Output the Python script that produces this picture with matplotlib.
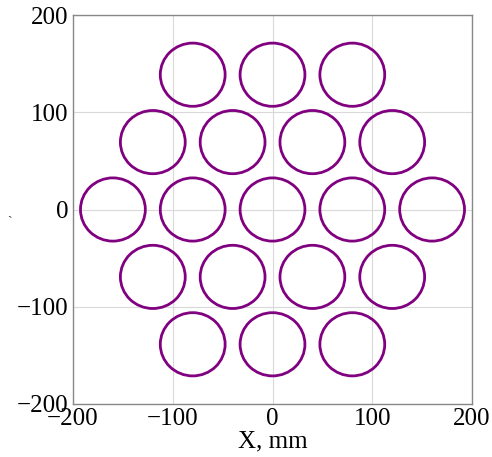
import matplotlib.pyplot as plt
from matplotlib.patches import Circle

# circle centres (mm), hexagonal packing
cx = [-80, 0, 80,
      -120, -40, 40, 120,
      -160, -80, 0, 80, 160,
      -120, -40, 40, 120,
      -80, 0, 80]
cy = [138.6, 138.6, 138.6,
      69.3, 69.3, 69.3, 69.3,
      0, 0, 0, 0, 0,
      -69.3, -69.3, -69.3, -69.3,
      -138.6, -138.6, -138.6]
radius = 32.5

ticks = [-200, -100, 0, 100, 200]

plt.rcParams['font.family'] = ['Liberation Serif', 'DejaVu Serif']

fig = plt.figure(figsize=(4.92, 4.57), dpi=100)
ax = fig.add_axes([73 / 492, 1 - 404 / 457, 399 / 492, 389 / 457])

for x, y in zip(cx, cy):
    ax.add_patch(Circle((x, y), radius, fill=False, edgecolor='#800080', lw=2.0))

ax.set_xlim(-200, 200)
ax.set_ylim(-200, 200)
ax.set_xticks(ticks)
ax.set_yticks(ticks)
ax.set_xticklabels([str(t).replace('-', '\u2212') for t in ticks])
ax.set_yticklabels([str(t).replace('-', '\u2212') for t in ticks])
ax.tick_params(length=0, labelsize=18, pad=3)
ax.grid(True, color='#d9d9d9', lw=0.8)
ax.set_axisbelow(True)
for s in ax.spines.values():
    s.set_color('#888888')
    s.set_linewidth(1.0)

ax.set_xlabel('X, mm', fontsize=18, labelpad=0)
fig.text(10 / 492, 1 - 223 / 457, '`', fontsize=10, color='#333333', ha='center', va='center')

fig.savefig('out.png', dpi=100)
